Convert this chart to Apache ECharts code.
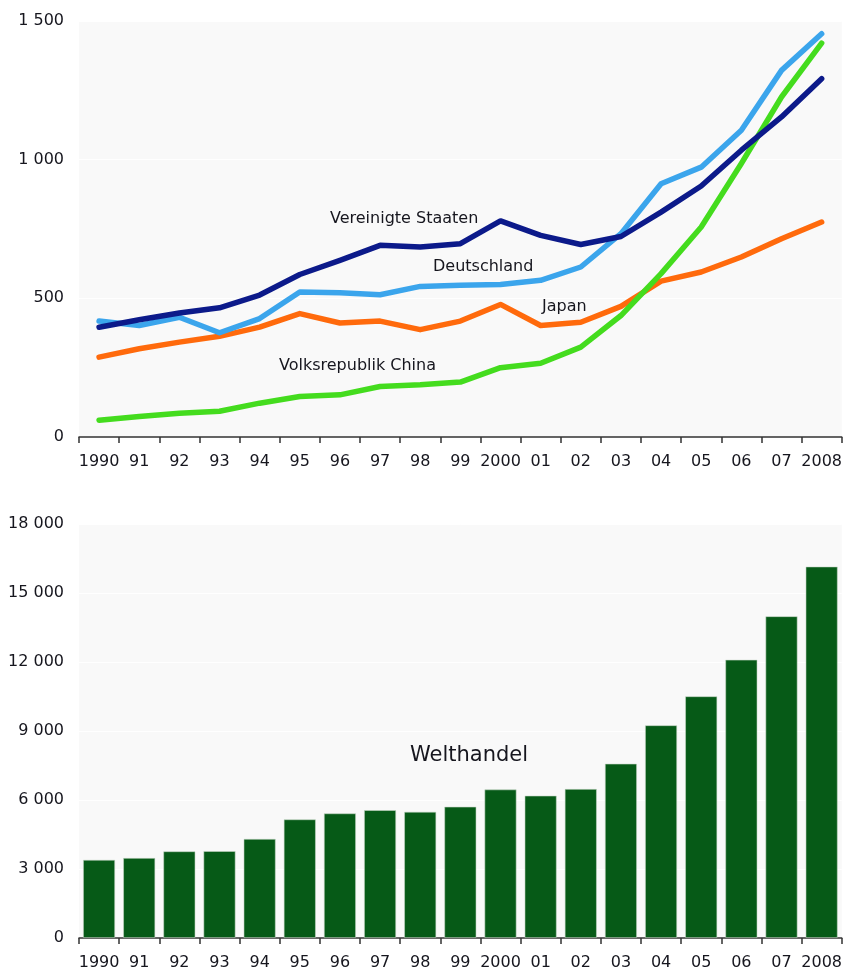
<!DOCTYPE html>
<html>
<head>
<meta charset="utf-8">
<script src="https://cdn.jsdelivr.net/npm/echarts@6/dist/echarts.min.js"></script>
<style>
html,body{margin:0;padding:0;background:#fff;}
#chart{width:845px;height:972px;}
</style>
</head>
<body>
<div id="chart"></div>
<script>
const years = ['1990','91','92','93','94','95','96','97','98','99','2000','01','02','03','04','05','06','07','2008'];
const usa     = [396, 423, 447, 466, 512, 586, 637, 691, 685, 697, 779, 727, 694, 723, 811, 905, 1034, 1154, 1292];
const germany = [418, 402, 432, 376, 427, 523, 520, 513, 543, 547, 550, 565, 613, 733, 913, 973, 1106, 1322, 1454];
const japan   = [288, 318, 342, 363, 396, 445, 411, 418, 387, 418, 478, 402, 414, 471, 562, 595, 649, 715, 775];
const china   = [60, 74, 86, 93, 122, 146, 152, 182, 188, 198, 250, 266, 324, 438, 589, 757, 986, 1226, 1420];
const world   = [3400, 3480, 3770, 3780, 4310, 5160, 5420, 5560, 5490, 5710, 6460, 6190, 6480, 7580, 9250, 10510, 12100, 13990, 16150];

const fmt = v => String(v).replace(/\B(?=(\d{3})+(?!\d))/g, ' ');
const FONT = 'DejaVu Sans';
const TXT = '#16161e';

const chart = echarts.init(document.getElementById('chart'));
const xAxisCommon = {
  type: 'category', data: years, boundaryGap: true,
  axisLine: {lineStyle: {color: '#333', width: 1.5}},
  axisTick: {show: true, length: 6, lineStyle: {color: '#333', width: 1.5}},
  axisLabel: {color: TXT, fontFamily: FONT, fontSize: 16, margin: 17, interval: 0}
};
const yAxisCommon = {
  type: 'value', min: 0,
  axisLine: {show: false}, axisTick: {show: false},
  splitLine: {lineStyle: {color: '#ffffff', width: 1}},
  axisLabel: {color: TXT, fontFamily: FONT, fontSize: 16, margin: 15, formatter: fmt}
};
const lineSeries = (name, data, color, z) => ({
  type: 'line', name, data, xAxisIndex: 0, yAxisIndex: 0,
  symbol: 'none', z,
  lineStyle: {color, width: 5.5, cap: 'round', join: 'round'}
});

chart.setOption({
  animation: false,
  backgroundColor: '#ffffff',
  grid: [
    {left: 79, right: 3, top: 21, height: 416, show: true, backgroundColor: '#f9f9f9', borderWidth: 0},
    {left: 79, right: 3, top: 524, height: 414, show: true, backgroundColor: '#f9f9f9', borderWidth: 0}
  ],
  xAxis: [
    Object.assign({gridIndex: 0}, xAxisCommon),
    Object.assign({gridIndex: 1}, xAxisCommon)
  ],
  yAxis: [
    Object.assign({gridIndex: 0, max: 1500, interval: 500}, yAxisCommon),
    Object.assign({gridIndex: 1, max: 18000, interval: 3000}, yAxisCommon)
  ],
  series: [
    lineSeries('Japan', japan, '#ff6a0c', 2),
    lineSeries('Volksrepublik China', china, '#44dc1e', 3),
    lineSeries('Deutschland', germany, '#3ba5ec', 4),
    lineSeries('Vereinigte Staaten', usa, '#0c1a8a', 5),
    {
      type: 'bar', name: 'Welthandel', data: world, xAxisIndex: 1, yAxisIndex: 1,
      barCategoryGap: '20%',
      itemStyle: {color: '#065a17', borderColor: 'rgba(200,215,200,0.7)', borderWidth: 0.8}
    }
  ],
  graphic: [
    {type: 'text', left: 330, top: 211, style: {text: 'Vereinigte Staaten', fill: TXT, font: '16px "DejaVu Sans"'}},
    {type: 'text', left: 433, top: 259, style: {text: 'Deutschland', fill: TXT, font: '16px "DejaVu Sans"'}},
    {type: 'text', left: 542, top: 299, style: {text: 'Japan', fill: TXT, font: '16px "DejaVu Sans"'}},
    {type: 'text', left: 279, top: 358, style: {text: 'Volksrepublik China', fill: TXT, font: '16px "DejaVu Sans"'}},
    {type: 'text', left: 410, top: 745, style: {text: 'Welthandel', fill: TXT, font: '21px "DejaVu Sans"'}}
  ]
});
</script>
</body>
</html>
